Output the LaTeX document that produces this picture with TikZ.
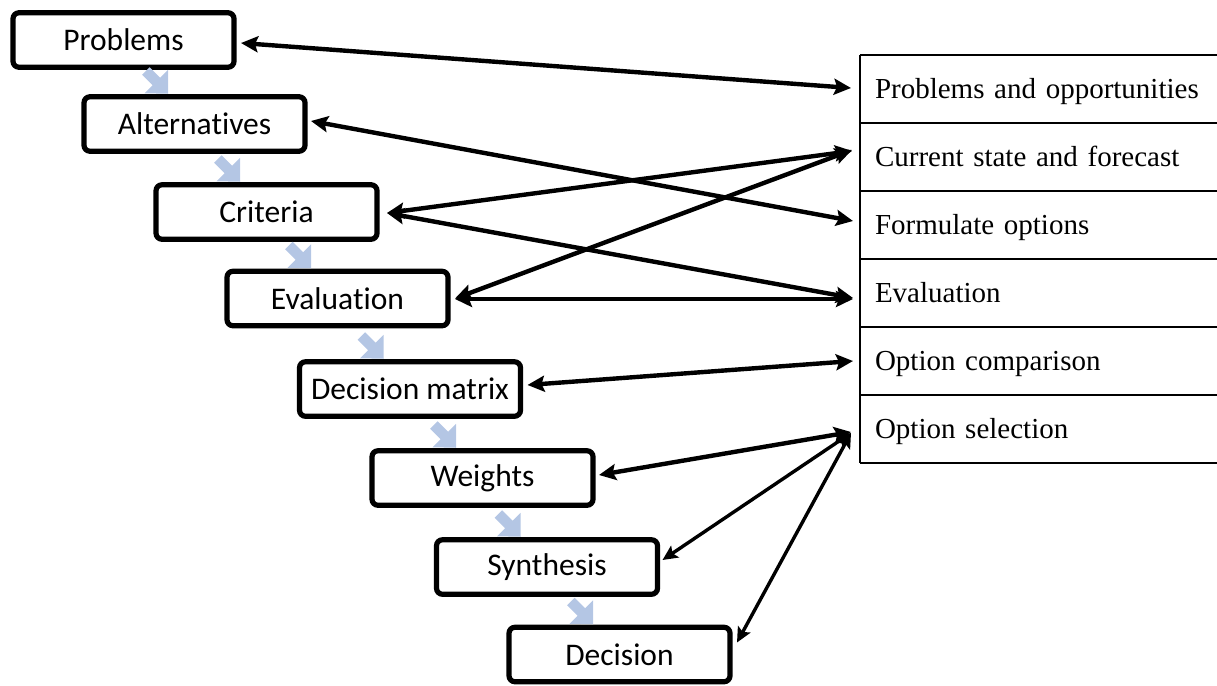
\documentclass[tikz,border=0pt]{standalone}
\usepackage{fontspec}
\setmainfont{Liberation Serif}
\newfontfamily\boxfont[Ligatures=NoCommon]{Carlito}
\usetikzlibrary{calc,arrows.meta}

\definecolor{flowblue}{RGB}{180,198,228}

% small pale arrow leading from one step box down to the next one
\newcommand\flowmark[1]{%
  \fill[flowblue] ($(#1.north west)+(84,-3)$) -- ++(0,-24) -- ++(-8,8)
    -- ++(-10.5,-10.5) -- ++(-7.5,7.5) -- ++(10.5,10.5) -- ++(-8,8) -- cycle;}

\begin{document}
\begin{tikzpicture}[x=1pt,y=-1pt,
  stepbox/.style={draw, line width=5.2pt, rounded corners=6pt,
    minimum width=221pt, minimum height=54.5pt, inner sep=0pt, outer sep=0pt,
    font=\boxfont\fontsize{31.5}{36}\selectfont},
  rowcell/.style={anchor=north west, minimum height=68pt, text width=327pt,
    text height=25pt, text depth=6pt,
    inner xsep=15pt, inner ysep=0pt, outer sep=0pt, align=left,
    font=\fontsize{29}{34}\selectfont},
  link/.style={line width=4.4pt, {Stealth[length=17pt,width=16pt,inset=3pt]}-{Stealth[length=17pt,width=16pt,inset=3pt]}},
  thinlink/.style={line width=3.4pt, {Stealth[length=15pt,width=14pt,inset=3pt]}-{Stealth[length=15pt,width=14pt,inset=3pt]}},
  rule/.style={line width=2.6pt}
]
\useasboundingbox (0,0) rectangle (1217,685);

% step boxes
\node[stepbox] (b1) at (123.5,40)  {Problems};
\node[stepbox] (b2) at (194.5,124) {Alternatives};
\node[stepbox] (b3) at (266.5,212) {Criteria};
\node[stepbox] (b4) at (337.5,298.5) {Evaluation};
\node[stepbox] (b5) at (410,389)   {Decision matrix};
\node[stepbox] (b6) at (482.5,478) {Weights};
\node[stepbox] (b7) at (547,567)   {Synthesis};
\node[stepbox] (b8) at (619.5,654.5) {Decision};

% pale arrows between consecutive steps
\flowmark{b2}
\flowmark{b3}
\flowmark{b4}
\flowmark{b5}
\flowmark{b6}
\flowmark{b7}
\flowmark{b8}

% table of stages
\node[rowcell] (r1) at (860,55)  {Problems and opportunities};
\node[rowcell] (r2) at (860,123) {Current state and forecast};
\node[rowcell] (r3) at (860,191) {Formulate options};
\node[rowcell] (r4) at (860,259) {Evaluation};
\node[rowcell] (r5) at (860,327) {Option comparison};
\node[rowcell] (r6) at (860,395) {Option selection};
\foreach \r in {r1,r2,r3,r4,r5,r6}
  \draw[rule] (\r.north west) -- (\r.north east);
\draw[rule] (r6.south west) -- (r6.south east);
\draw[rule] (r1.north west) -- (r6.south west);

% correspondences
\draw[link] ($(b1.east)+(7,3)$)   -- ($(r1.west)+(-9,-1)$);
\draw[link] ($(b2.east)+(6,-3)$)  -- ($(r3.west)+(-7,-4)$);
\draw[link] ($(b3.east)+(10,1)$)  -- ($(r2.west)+(-8,-6)$);
\draw[link] ($(b3.east)+(10,1)$)  -- ($(r4.west)+(-7,5)$);
\draw[link] ($(b4.east)+(7,0)$)   -- ($(r2.west)+(-8,-7)$);
\draw[link] ($(b4.east)+(7,0.5)$) -- ($(r4.west)+(-7,6)$);
\draw[link] ($(b5.east)+(7,-4)$)  -- ($(r5.west)+(-7,0)$);
\draw[link] ($(b6.east)+(6,-3)$)  -- ($(r6.west)+(-9,3)$);
\draw[thinlink] ($(b7.east)+(5,-7)$)  -- ($(r6.west)+(-9,4)$);
\draw[thinlink] ($(b8.east)+(7,-12)$) -- ($(r6.west)+(-9,4)$);
\end{tikzpicture}
\end{document}
